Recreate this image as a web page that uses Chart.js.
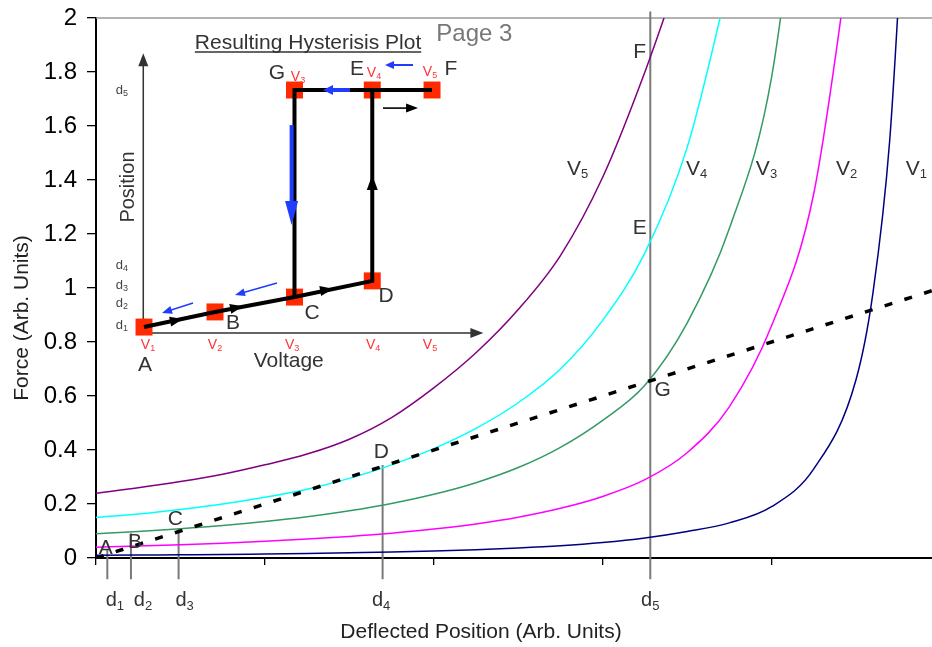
<!DOCTYPE html>
<html>
<head>
<meta charset="utf-8">
<script src="https://cdn.jsdelivr.net/npm/chart.js@4.4.1/dist/chart.umd.min.js"></script>
<style>
  html, body { margin: 0; padding: 0; background: #fff; }
  #wrap { position: relative; width: 932px; height: 647px; }
  #main { position: absolute; left: 0; top: 0; }
  #inset { position: absolute; left: 100px; top: 20px; }
</style>
</head>
<body>
<div id="wrap">
  <canvas id="main" width="932" height="647"></canvas>
  <canvas id="inset" width="400" height="360"></canvas>
</div>
<script>
const FONT = '"Liberation Sans", Arial, sans-serif';

// ===== Main chart data (x in tick units, force in arb. units) =====
const xs = [0, 0.25, 0.5, 0.75, 1, 1.25, 1.5, 1.75, 2, 2.25, 2.5, 2.75, 3, 3.25, 3.5, 3.75, 4, 4.25, 4.5, 4.6, 4.7, 4.8];
const forceV5 = [0.24, 0.26, 0.283, 0.31, 0.345, 0.385, 0.44, 0.52, 0.63, 0.76, 0.92, 1.12, 1.41, 1.80, 2.25];
const forceV4 = [0.15, 0.163, 0.18, 0.2, 0.225, 0.255, 0.295, 0.345, 0.405, 0.48, 0.575, 0.70, 0.88, 1.13, 1.52, 2.14];
const forceV3 = [0.09, 0.098, 0.108, 0.12, 0.135, 0.153, 0.175, 0.202, 0.236, 0.279, 0.335, 0.41, 0.51, 0.64, 0.87, 1.22, 1.78, 3.0];
const forceV2 = [0.04, 0.044, 0.049, 0.055, 0.062, 0.07, 0.08, 0.092, 0.107, 0.126, 0.151, 0.184, 0.228, 0.29, 0.39, 0.56, 0.86, 1.35, 2.4];
const forceV1 = [0.01, 0.011, 0.012, 0.013, 0.015, 0.017, 0.019, 0.022, 0.026, 0.031, 0.037, 0.045, 0.057, 0.074, 0.098, 0.13, 0.19, 0.33, 0.66, 0.98, 1.55, 2.6];
const seriesNames = ['V5', 'V4', 'V3', 'V2', 'V1'];
const seriesColors = ['#800080', '#00ffff', '#339966', '#ff00ff', '#000080'];

// spring / restoring force line
const springX = [0, 4.95];
const springY = [0, 0.99];

// deflected positions d1..d5
const dNames = ['1', '2', '3', '4', '5'];
const dPos = [0.067, 0.207, 0.489, 1.697, 3.282];
const dTop = [0.03, 0.092, 0.11, 0.344, 2.024];
const dBottom = -0.079;

// ===== Inset (hysteresis) data =====
const insetV = [1, 1.986, 3.09, 4.17, 5.0];      // V1..V5
const insetLowP = [0.22, 0.78, 1.33, 1.93];       // A, B, C, D
const insetTopP = 9.0;                            // d5 level

function pts(vals) { return vals.map((y, i) => ({ x: xs[i], y })); }

function drawSub(ctx, base, sub, x, y, size, color, subSize) {
  ctx.save();
  ctx.fillStyle = color;
  ctx.textBaseline = 'middle';
  ctx.textAlign = 'left';
  const ss = subSize || Math.round(size * 0.62);
  ctx.font = size + 'px ' + FONT;
  const wb = ctx.measureText(base).width;
  ctx.font = ss + 'px ' + FONT;
  const ws = ctx.measureText(sub).width;
  const x0 = x - (wb + ws) / 2;
  ctx.font = size + 'px ' + FONT;
  ctx.fillText(base, x0, y);
  ctx.font = ss + 'px ' + FONT;
  ctx.fillText(sub, x0 + wb, y + size * 0.28);
  ctx.restore();
}

function drawText(ctx, txt, x, y, size, color, rot) {
  ctx.save();
  ctx.fillStyle = color;
  ctx.font = size + 'px ' + FONT;
  ctx.textAlign = 'center';
  ctx.textBaseline = 'middle';
  ctx.translate(x, y);
  if (rot) ctx.rotate(rot);
  ctx.fillText(txt, 0, 0);
  ctx.restore();
}

// ===== Main chart =====
const mainLetters = [['A', 0.0574, 0.035], ['B', 0.2308, 0.06], ['C', 0.4704, 0.143], ['D', 1.6893, 0.393],
  ['E', 3.2189, 1.222], ['F', 3.2189, 1.874], ['G', 3.355, 0.622]];
const vLabelX = [2.852, 3.556, 3.970, 4.444, 4.858];
const vLabelY = 1.4407;
const dLabelX = [0.112, 0.278, 0.525, 1.688, 3.282];
const dLabelY = -0.157;

const mainAnnot = {
  id: 'mainAnnot',
  beforeDatasetsDraw(chart) {
    const { ctx, chartArea } = chart;
    ctx.save();
    ctx.strokeStyle = '#9a9a9a';
    ctx.lineWidth = 1.3;
    ctx.beginPath();
    ctx.moveTo(chartArea.left, chartArea.top);
    ctx.lineTo(chartArea.right, chartArea.top);
    ctx.stroke();
    ctx.restore();
  },
  afterDraw(chart) {
    const { ctx } = chart;
    const sx = chart.scales.x, sy = chart.scales.y;
    mainLetters.forEach(([t, x, y]) => drawText(ctx, t, sx.getPixelForValue(x), sy.getPixelForValue(y), 21, '#333'));
    seriesNames.forEach((n, i) => drawSub(ctx, n[0], n[1], sx.getPixelForValue(vLabelX[i]), sy.getPixelForValue(vLabelY), 21, '#333', 13));
    dNames.forEach((n, i) => drawSub(ctx, 'd', n, sx.getPixelForValue(dLabelX[i]), sy.getPixelForValue(dLabelY), 20, '#333', 13));
    drawText(ctx, 'Page 3', sx.getPixelForValue(2.24), sy.getPixelForValue(1.941), 24, '#777');
    drawText(ctx, 'Deflected Position (Arb. Units)', 481, 632, 21, '#222');
    drawText(ctx, 'Force (Arb. Units)', 22, 318, 21, '#222', -Math.PI / 2);
  }
};

const curveSets = [forceV5, forceV4, forceV3, forceV2, forceV1].map((vals, i) => ({
  label: seriesNames[i],
  data: pts(vals),
  borderColor: seriesColors[i],
  borderWidth: 1.5,
  pointRadius: 0,
  cubicInterpolationMode: 'monotone',
}));

const dSets = dPos.map((x, i) => ({
  label: 'd' + dNames[i],
  data: [{ x, y: dTop[i] }, { x, y: dBottom }],
  borderColor: '#7a7a7a',
  borderWidth: 2,
  pointRadius: 0,
  clip: false,
}));

new Chart(document.getElementById('main'), {
  type: 'line',
  data: {
    datasets: [
      {
        label: 'spring',
        data: springX.map((x, i) => ({ x, y: springY[i] })),
        borderColor: '#000',
        borderWidth: 3.5,
        borderDash: [8, 12.7],
        pointRadius: 0,
      },
      ...curveSets,
      ...dSets,
    ],
  },
  options: {
    responsive: false,
    animation: false,
    layout: { autoPadding: false, padding: { top: 18, left: 0, right: 0, bottom: 0 } },
    plugins: { legend: { display: false }, tooltip: { enabled: false } },
    scales: {
      x: {
        type: 'linear', min: 0, max: 4.95,
        afterFit: (s) => { s.height = 89; s.paddingLeft = 0; s.paddingRight = 0; },
        ticks: { stepSize: 1, includeBounds: false, callback: () => '', maxRotation: 0 },
        grid: { drawOnChartArea: false, tickLength: 7, color: '#000', lineWidth: 1.3 },
        border: { color: '#000', width: 2 },
      },
      y: {
        type: 'linear', min: 0, max: 2,
        afterFit: (s) => { s.width = 96; s.paddingTop = 0; s.paddingBottom = 0; },
        ticks: {
          stepSize: 0.2, color: '#000', padding: 10,
          font: { family: FONT, size: 24 },
          callback: (v) => String(+v.toFixed(1)),
        },
        grid: { drawOnChartArea: false, tickLength: 9, color: '#000', lineWidth: 1.3 },
        border: { color: '#000', width: 2 },
      },
    },
  },
  plugins: [mainAnnot],
});

// ===== Inset: resulting hysteresis plot =====
const insetLetters = [['G', 2.847, 9.63], ['E', 3.958, 9.778], ['F', 5.264, 9.778], ['A', 1.014, -1.185],
  ['B', 2.236, 0.37], ['C', 3.333, 0.741], ['D', 4.361, 1.37]];
const insetTopLabels = [[2, 3.139, 9.481], [3, 4.194, 9.63], [4, 4.972, 9.667]];
const insetVLabelX = [1.056, 1.986, 3.056, 4.181, 4.972];
const insetVLabelP = -0.444;
const insetDLabelP = [0.296, 1.111, 1.778, 2.519, 9.0];
const insetDLabelV = 0.694;

const arrows = [
  // black heads along the path
  { from: [1.375, 0.425], to: [1.54, 0.515], color: '#000', lw: 0, len: 13, w: 10 },
  { from: [2.21, 0.90], to: [2.375, 0.99], color: '#000', lw: 0, len: 13, w: 10 },
  { from: [3.46, 1.56], to: [3.625, 1.64], color: '#000', lw: 0, len: 13, w: 10 },
  { from: [4.17, 5.0], to: [4.17, 5.85], color: '#000', lw: 0, len: 15, w: 11 },
  { from: [4.319, 8.33], to: [4.806, 8.33], color: '#000', lw: 1.6, len: 12, w: 9 },
  // blue return arrows
  { from: [1.681, 1.111], to: [1.25, 0.741], color: '#1f3cff', lw: 1.5, len: 10, w: 8 },
  { from: [2.847, 1.852], to: [2.264, 1.407], color: '#1f3cff', lw: 1.5, len: 10, w: 8 },
  { from: [3.05, 7.70], to: [3.05, 4.0], color: '#1f3cff', lw: 4, len: 24, w: 13 },
  { from: [3.861, 9.0], to: [3.486, 9.0], color: '#1f3cff', lw: 4, len: 10, w: 10 },
  { from: [4.736, 9.926], to: [4.347, 9.926], color: '#1f3cff', lw: 2, len: 9, w: 8 },
];

function arrow(ctx, x1, y1, x2, y2, a) {
  const ang = Math.atan2(y2 - y1, x2 - x1);
  const c = Math.cos(ang), s = Math.sin(ang);
  ctx.save();
  ctx.strokeStyle = a.color;
  ctx.fillStyle = a.color;
  if (a.lw > 0) {
    ctx.lineWidth = a.lw;
    ctx.beginPath();
    ctx.moveTo(x1, y1);
    ctx.lineTo(x2 - c * a.len * 0.8, y2 - s * a.len * 0.8);
    ctx.stroke();
  }
  ctx.beginPath();
  ctx.moveTo(x2, y2);
  ctx.lineTo(x2 - a.len * c + a.w / 2 * s, y2 - a.len * s - a.w / 2 * c);
  ctx.lineTo(x2 - a.len * c - a.w / 2 * s, y2 - a.len * s + a.w / 2 * c);
  ctx.closePath();
  ctx.fill();
  ctx.restore();
}

const insetAnnot = {
  id: 'insetAnnot',
  beforeDatasetsDraw(chart) {
    const { ctx } = chart;
    const sx = chart.scales.x, sy = chart.scales.y;
    const ox = sx.getPixelForValue(0.99), oy = sy.getPixelForValue(0);
    const ax = sx.getPixelForValue(5.713), ay = sy.getPixelForValue(10.36);
    ctx.save();
    ctx.strokeStyle = '#333';
    ctx.fillStyle = '#333';
    ctx.lineWidth = 1.5;
    ctx.beginPath();
    ctx.moveTo(ox, oy); ctx.lineTo(ox, ay + 10);
    ctx.moveTo(ox, oy); ctx.lineTo(ax - 10, oy);
    ctx.stroke();
    ctx.beginPath();
    ctx.moveTo(ox, ay); ctx.lineTo(ox - 5, ay + 13); ctx.lineTo(ox + 5, ay + 13); ctx.closePath(); ctx.fill();
    ctx.beginPath();
    ctx.moveTo(ax, oy); ctx.lineTo(ax - 13, oy - 5); ctx.lineTo(ax - 13, oy + 5); ctx.closePath(); ctx.fill();
    ctx.restore();
  },
  afterDraw(chart) {
    const { ctx } = chart;
    const sx = chart.scales.x, sy = chart.scales.y;
    const X = (v) => sx.getPixelForValue(v), Y = (p) => sy.getPixelForValue(p);
    arrows.forEach((a) => arrow(ctx, X(a.from[0]), Y(a.from[1]), X(a.to[0]), Y(a.to[1]), a));

    // title with underline
    const tx = X(3.278), ty = Y(10.741);
    drawText(ctx, 'Resulting Hysterisis Plot', tx, ty, 21, '#333');
    ctx.save();
    ctx.font = '21px ' + FONT;
    const tw = ctx.measureText('Resulting Hysterisis Plot').width;
    ctx.strokeStyle = '#333';
    ctx.lineWidth = 1.3;
    ctx.beginPath();
    ctx.moveTo(tx - tw / 2, Y(10.407));
    ctx.lineTo(tx + tw / 2, Y(10.407));
    ctx.stroke();
    ctx.restore();

    drawText(ctx, 'Voltage', X(3.01), Y(-1.063), 21, '#333');
    drawText(ctx, 'Position', X(0.778), Y(5.407), 20, '#333', -Math.PI / 2);
    insetLetters.forEach(([t, v, p]) => drawText(ctx, t, X(v), Y(p), 21, '#333'));
    insetVLabelX.forEach((v, i) => drawSub(ctx, 'V', String(i + 1), X(v), Y(insetVLabelP), 14, '#ff3333', 9));
    insetTopLabels.forEach(([i, v, p]) => drawSub(ctx, 'V', String(i + 1), X(v), Y(p), 14, '#ff3333', 9));
    insetDLabelP.forEach((p, i) => drawSub(ctx, 'd', String(i + 1), X(insetDLabelV), Y(p), 13, '#444', 9));
  }
};

const lowPath = [
  { x: insetV[0], y: insetLowP[0] },
  { x: insetV[1], y: insetLowP[1] },
  { x: insetV[2], y: insetLowP[2] },
  { x: insetV[3], y: insetLowP[3] },
  { x: insetV[3], y: insetTopP },
  { x: insetV[4], y: insetTopP },
];
const returnPath = [
  { x: insetV[3], y: insetTopP },
  { x: insetV[2], y: insetTopP },
  { x: insetV[2], y: insetLowP[2] },
];
const squares = [
  ...insetLowP.map((p, i) => ({ x: insetV[i], y: p })),
  { x: insetV[2], y: insetTopP },
  { x: insetV[3], y: insetTopP },
  { x: insetV[4], y: insetTopP },
];

new Chart(document.getElementById('inset'), {
  type: 'line',
  data: {
    datasets: [
      { data: lowPath, borderColor: '#000', borderWidth: 4, pointRadius: 0, borderJoinStyle: 'miter' },
      { data: returnPath, borderColor: '#000', borderWidth: 4, pointRadius: 0, borderJoinStyle: 'miter' },
      { data: squares, showLine: false, pointStyle: 'rect', pointRadius: 12, pointBackgroundColor: '#ff2a00', pointBorderWidth: 0 },
    ],
  },
  options: {
    responsive: false,
    animation: false,
    layout: { autoPadding: false, padding: 0 },
    plugins: { legend: { display: false }, tooltip: { enabled: false } },
    scales: {
      x: { type: 'linear', display: false, min: 0.3889, max: 5.944 },
      y: { type: 'linear', display: false, min: -1.741, max: 11.593 },
    },
  },
  plugins: [insetAnnot],
});
</script>
</body>
</html>
